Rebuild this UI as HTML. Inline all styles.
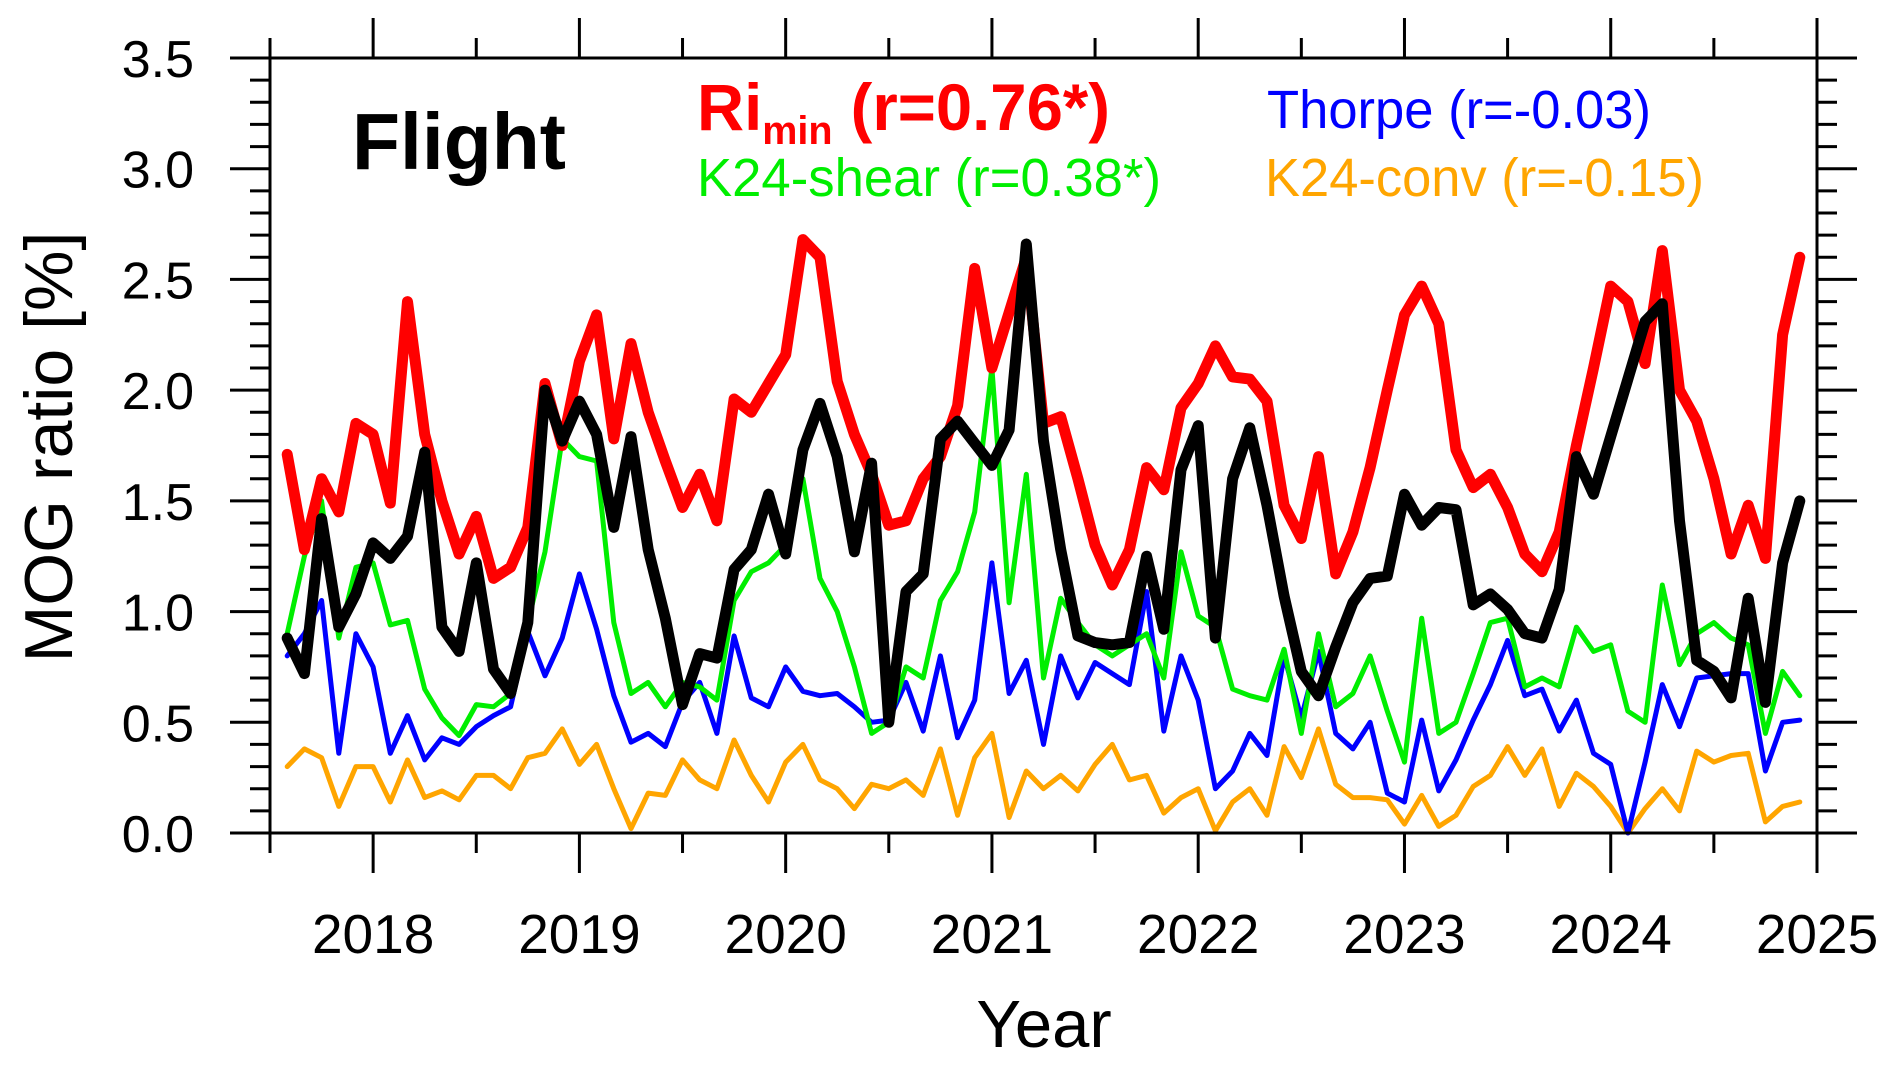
<!DOCTYPE html>
<html><head><meta charset="utf-8"><style>
html,body{margin:0;padding:0;background:#fff;}
svg{display:block;font-family:"Liberation Sans",Arial,sans-serif;}
</style></head><body>
<svg id="chart" width="1892" height="1067" viewBox="0 0 1892 1067" xmlns="http://www.w3.org/2000/svg">
<rect x="0" y="0" width="1892" height="1067" fill="#fff"/>
<g id="ticks"></g>
<g id="series"></g>
<rect x="270" y="58" width="1547" height="775" fill="none" stroke="#000" stroke-width="3"/>
<g id="labels"></g>
<text x="352" y="169" font-size="80" font-weight="bold" fill="#000" textLength="214" lengthAdjust="spacingAndGlyphs">Flight</text>
<text x="697" y="130" font-size="66" font-weight="bold" fill="#ff0000" textLength="413" lengthAdjust="spacingAndGlyphs">Ri<tspan font-size="40" dy="14">min</tspan><tspan dy="-14"> (r=0.76*)</tspan></text>
<text x="1267" y="128" font-size="54" fill="#0000ff" textLength="384" lengthAdjust="spacingAndGlyphs">Thorpe (r=-0.03)</text>
<text x="697" y="196" font-size="54" fill="#00ee00" textLength="464" lengthAdjust="spacingAndGlyphs">K24-shear (r=0.38*)</text>
<text x="1265" y="196" font-size="54" fill="#ffa500" textLength="439" lengthAdjust="spacingAndGlyphs">K24-conv (r=-0.15)</text>
<text x="1044" y="1047" font-size="67" text-anchor="middle" fill="#000">Year</text>
<text x="0" y="0" font-size="68" text-anchor="middle" fill="#000" transform="translate(72,447) rotate(-90)">MOG ratio [%]</text>
</svg>
<script>
const startYear = 2017, startMonth = 8;
const yTicks = [0.0,0.5,1.0,1.5,2.0,2.5,3.0,3.5];
const yTickLabels = ["0.0","0.5","1.0","1.5","2.0","2.5","3.0","3.5"];
const xYears = [2018,2019,2020,2021,2022,2023,2024,2025];
const xTickLabels = ["2018","2019","2020","2021","2022","2023","2024","2025"];
const riMin = [1.71,1.28,1.60,1.45,1.85,1.80,1.49,2.40,1.80,1.50,1.26,1.43,1.15,1.20,1.38,2.03,1.75,2.13,2.34,1.78,2.21,1.90,1.68,1.47,1.62,1.41,1.96,1.90,2.03,2.16,2.68,2.60,2.04,1.80,1.62,1.39,1.41,1.60,1.70,1.93,2.55,2.10,2.35,2.60,1.85,1.88,1.60,1.30,1.12,1.28,1.65,1.55,1.92,2.03,2.20,2.06,2.05,1.95,1.48,1.33,1.70,1.17,1.36,1.65,2.00,2.34,2.47,2.30,1.73,1.56,1.62,1.47,1.26,1.18,1.36,1.75,2.10,2.47,2.40,2.12,2.63,2.00,1.86,1.60,1.26,1.48,1.24,2.25,2.60];
const flight = [0.88,0.72,1.42,0.93,1.08,1.31,1.24,1.34,1.72,0.93,0.82,1.22,0.74,0.63,0.95,2.00,1.77,1.95,1.80,1.38,1.79,1.28,0.97,0.58,0.81,0.79,1.19,1.28,1.53,1.26,1.73,1.94,1.70,1.27,1.67,0.50,1.09,1.17,1.78,1.86,1.76,1.66,1.82,2.66,1.77,1.28,0.89,0.86,0.85,0.86,1.25,0.92,1.64,1.84,0.88,1.60,1.83,1.48,1.07,0.73,0.62,0.84,1.04,1.15,1.16,1.53,1.39,1.47,1.46,1.03,1.08,1.01,0.90,0.88,1.10,1.70,1.53,1.79,2.05,2.31,2.39,1.41,0.78,0.73,0.61,1.06,0.59,1.22,1.50];
const k24Shear = [0.90,1.25,1.50,0.88,1.20,1.22,0.94,0.96,0.65,0.52,0.44,0.58,0.57,0.63,0.95,1.27,1.78,1.70,1.68,0.95,0.63,0.68,0.57,0.68,0.66,0.60,1.05,1.18,1.22,1.30,1.60,1.15,1.00,0.75,0.45,0.50,0.75,0.70,1.05,1.18,1.45,2.10,1.04,1.62,0.70,1.06,0.95,0.85,0.80,0.85,0.90,0.70,1.27,0.98,0.93,0.65,0.62,0.60,0.83,0.45,0.90,0.57,0.63,0.80,0.55,0.32,0.97,0.45,0.50,0.72,0.95,0.97,0.66,0.70,0.66,0.93,0.82,0.85,0.55,0.50,1.12,0.76,0.90,0.95,0.88,0.85,0.45,0.73,0.62];
const thorpe = [0.80,0.90,1.05,0.36,0.90,0.75,0.36,0.53,0.33,0.43,0.40,0.48,0.53,0.57,0.91,0.71,0.88,1.17,0.92,0.62,0.41,0.45,0.39,0.59,0.68,0.45,0.89,0.61,0.57,0.75,0.64,0.62,0.63,0.57,0.50,0.51,0.68,0.46,0.80,0.43,0.60,1.22,0.63,0.78,0.40,0.80,0.61,0.77,0.72,0.67,1.09,0.46,0.80,0.60,0.20,0.28,0.45,0.35,0.80,0.52,0.82,0.45,0.38,0.50,0.18,0.14,0.51,0.19,0.33,0.51,0.67,0.87,0.62,0.65,0.46,0.60,0.36,0.31,0.00,0.32,0.67,0.48,0.70,0.71,0.72,0.72,0.28,0.50,0.51];
const k24Conv = [0.30,0.38,0.34,0.12,0.30,0.30,0.14,0.33,0.16,0.19,0.15,0.26,0.26,0.20,0.34,0.36,0.47,0.31,0.40,0.20,0.02,0.18,0.17,0.33,0.24,0.20,0.42,0.26,0.14,0.32,0.40,0.24,0.20,0.11,0.22,0.20,0.24,0.17,0.38,0.08,0.34,0.45,0.07,0.28,0.20,0.26,0.19,0.31,0.40,0.24,0.26,0.09,0.16,0.20,0.01,0.14,0.20,0.08,0.39,0.25,0.47,0.22,0.16,0.16,0.15,0.04,0.17,0.03,0.08,0.21,0.26,0.39,0.26,0.38,0.12,0.27,0.21,0.12,0.00,0.11,0.20,0.10,0.37,0.32,0.35,0.36,0.05,0.12,0.14];

const L=270,R=1817,T=58,B=833,x0=2017.5,x1=2025,yMax=3.5;
function xs(t){return L+(t-x0)/(x1-x0)*(R-L);}
function ys(v){return B-v/yMax*(B-T);}
function tOf(i){return startYear+(startMonth-1+i)/12;}
const NS="http://www.w3.org/2000/svg";
function mk(tag,attrs,parent){const e=document.createElementNS(NS,tag);for(const k in attrs)e.setAttribute(k,attrs[k]);parent.appendChild(e);return e;}
const gt=document.getElementById('ticks'),gl=document.getElementById('labels'),gs=document.getElementById('series');
for(let k=0;k<=35;k++){
  const v=k/10, y=ys(v), major=(k%5===0), len=major?40:20;
  const a=mk('line',{x1:L-len,y1:y,x2:L,y2:y,stroke:'#000','stroke-width':3},gt);
  
  
  const b=mk('line',{x1:R,y1:y,x2:R+len,y2:y,stroke:'#000','stroke-width':3},gt);
  
  
}
yTicks.forEach((v,i)=>{
  const t=mk('text',{x:194,y:ys(v)+19,'font-size':52,'text-anchor':'end',fill:'#000'},gl);
  t.textContent=yTickLabels[i];
  
  
});
for(let t=x0;t<=x1+1e-6;t+=0.5){
  const x=xs(t), major=Math.abs(t-Math.round(t))<1e-6, len=major?40:20;
  const a=mk('line',{x1:x,y1:B,x2:x,y2:B+len,stroke:'#000','stroke-width':3},gt);
  
  
  const b=mk('line',{x1:x,y1:T-len,x2:x,y2:T,stroke:'#000','stroke-width':3},gt);
  
  
}
xYears.forEach((yr,i)=>{
  const t=mk('text',{x:xs(yr),y:953,'font-size':55,'text-anchor':'middle',fill:'#000'},gl);
  t.textContent=xTickLabels[i];
  
  
});
function line(arr,color,w,name){
  const pts=arr.map((v,i)=>xs(tOf(i)).toFixed(1)+','+ys(v).toFixed(1)).join(' ');
  const p=mk('polyline',{points:pts,fill:'none',stroke:color,'stroke-width':w,'stroke-linejoin':'round','stroke-linecap':'round'},gs);
  
  
}
line(k24Conv,'#ffa500',5,'k24-conv-line');
line(thorpe,'#0000ff',5,'thorpe-line');
line(k24Shear,'#00ee00',5,'k24-shear-line');
line(riMin,'#ff0000',11,'rimin-line');
line(flight,'#000000',11,'flight-line');
</script>
</body></html>
